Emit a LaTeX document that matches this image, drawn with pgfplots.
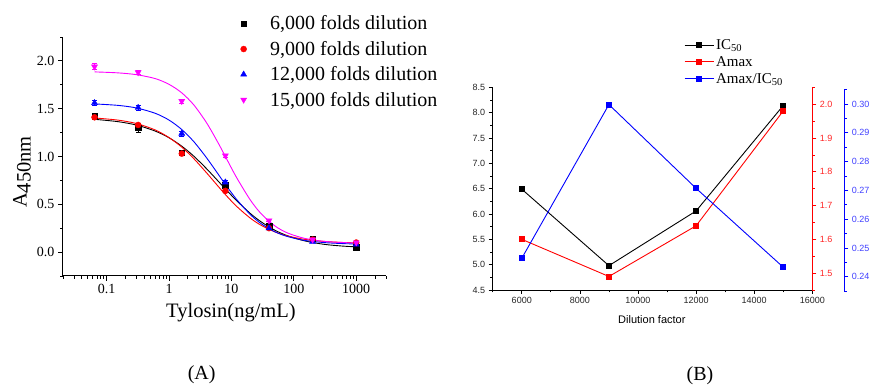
\documentclass[border=0pt]{standalone}
\usepackage{fontspec}
\setmainfont{Liberation Serif}
\newfontfamily\arialfont{Liberation Sans}
\usepackage{pgfplots}
\pgfplotsset{compat=1.18}
\definecolor{mag}{RGB}{255,0,255}
\begin{document}
\begin{tikzpicture}
\path[use as bounding box] (0pt,0pt) rectangle (871pt,390pt);
% ---------------- Panel A ----------------
\begin{axis}[
  at={(63pt,114pt)}, anchor=south west,
  scale only axis, width=323pt, height=239pt,
  xmode=log, xmin=0.02, xmax=3000,
  ymin=-0.25, ymax=2.25,
  axis x line*=bottom, axis y line*=left,
  axis line style={line width=1pt, -},
  tick align=outside,
  major tick length=5pt, minor tick length=3pt,
  every tick/.append style={black, line width=0.8pt},
  xtick={0.1,1,10,100,1000}, xticklabels={0.1,1,10,100,1000},
  minor xtick={0.02,0.03,0.04,0.05,0.06,0.07,0.08,0.09,0.2,0.3,0.4,0.5,0.6,0.7,0.8,0.9,2,3,4,5,6,7,8,9,20,30,40,50,60,70,80,90,200,300,400,500,600,700,800,900,2000,3000},
  ytick={0,0.5,1,1.5,2}, yticklabels={0.0,0.5,1.0,1.5,2.0},
  minor ytick={-0.25,0.25,0.75,1.25,1.75,2.25},
  tick label style={font=\fontsize{14}{16}\selectfont},
  xlabel={Tylosin(ng/mL)}, ylabel={A\raisebox{-4pt}{450nm}},
  label style={font=\fontsize{20.5}{24}\selectfont},
  xlabel style={at={(axis description cs:0.52,-0.155)}, anchor=center},
  ylabel style={at={(axis description cs:-0.127,0.435)}, anchor=center},
  legend style={draw=none, fill=none, at={(axis description cs:0.54,1.106)}, anchor=north west,
    font=\fontsize{20}{24}\selectfont, row sep=5.8pt,
    /tikz/every odd column/.append style={column sep=21.5pt}},
  legend cell align=left,
  clip=false,
]
% fitted curves
\addplot[black, line width=0.9pt, smooth, forget plot] coordinates {(0.064,1.389)(0.15,1.365)(0.3,1.329)(0.6,1.266)(1,1.196)(1.6,1.108)(2.5,1.003)(4,0.872)(6,0.749)(8,0.661)(12,0.541)(20,0.405)(30,0.316)(50,0.228)(80,0.170)(150,0.117)(300,0.082)(600,0.063)(1000,0.055)};
\addplot[red, line width=0.9pt, smooth, forget plot] coordinates {(0.064,1.403)(0.15,1.381)(0.3,1.345)(0.6,1.278)(1,1.198)(1.6,1.098)(2.5,0.977)(4,0.829)(6,0.695)(8,0.602)(12,0.481)(20,0.356)(30,0.280)(50,0.211)(80,0.168)(150,0.133)(300,0.112)(600,0.101)(1000,0.097)};
\addplot[blue, line width=0.9pt, smooth, forget plot] coordinates {(0.064,1.550)(0.15,1.535)(0.3,1.508)(0.6,1.452)(1,1.381)(1.6,1.282)(2.5,1.155)(4,0.986)(6,0.824)(8,0.708)(12,0.554)(20,0.394)(30,0.297)(50,0.212)(80,0.162)(150,0.122)(300,0.100)(600,0.089)(1000,0.085)};
\addplot[mag, line width=0.9pt, smooth, forget plot] coordinates {(0.064,1.885)(0.15,1.875)(0.3,1.856)(0.6,1.815)(1,1.755)(1.6,1.666)(2.5,1.539)(4,1.352)(6,1.153)(8,1.000)(12,0.784)(20,0.547)(30,0.401)(50,0.273)(80,0.199)(150,0.143)(300,0.113)(600,0.100)(1000,0.096)};
% data points
\addplot[black, only marks, mark=square*, mark size=2.8pt,
  error bars/.cd, y dir=both, y explicit, error bar style={line width=0.7pt}, error mark options={rotate=90, mark size=2.5pt, line width=0.7pt}]
  coordinates {(0.064,1.42) +- (0,0.03) (0.32,1.30) +- (0,0.045) (1.6,1.04) +- (0,0.02) (8,0.70) +- (0,0.02) (40,0.27) +- (0,0.01) (200,0.14) +- (0,0.01) (1000,0.05) +- (0,0.01)};
\addlegendentry{6,000 folds dilution}
\addplot[red, only marks, mark=*, mark size=3pt,
  error bars/.cd, y dir=both, y explicit, error bar style={line width=0.7pt}, error mark options={rotate=90, mark size=2.5pt, line width=0.7pt}]
  coordinates {(0.064,1.41) +- (0,0.02) (0.32,1.33) +- (0,0.02) (1.6,1.03) +- (0,0.02) (8,0.64) +- (0,0.02) (40,0.25) +- (0,0.01) (200,0.13) +- (0,0.01) (1000,0.10) +- (0,0.01)};
\addlegendentry{9,000 folds dilution}
\addplot[blue, only marks, mark=triangle*, mark size=3.5pt,
  error bars/.cd, y dir=both, y explicit, error bar style={line width=0.7pt}, error mark options={rotate=90, mark size=2.5pt, line width=0.7pt}]
  coordinates {(0.064,1.56) +- (0,0.03) (0.32,1.51) +- (0,0.03) (1.6,1.24) +- (0,0.025) (8,0.73) +- (0,0.02) (40,0.25) +- (0,0.01) (200,0.11) +- (0,0.01) (1000,0.08) +- (0,0.01)};
\addlegendentry{12,000 folds dilution}
\addplot[mag, only marks, mark=triangle*, mark options={rotate=180}, mark size=3.5pt,
  error bars/.cd, y dir=both, y explicit, error bar style={line width=0.7pt}, error mark options={rotate=90, mark size=2.5pt, line width=0.7pt}]
  coordinates {(0.064,1.94) +- (0,0.03) (0.32,1.88) +- (0,0.025) (1.6,1.58) +- (0,0.02) (8,1.01) +- (0,0.015) (40,0.33) +- (0,0.01) (200,0.13) +- (0,0.01) (1000,0.10) +- (0,0.01)};
\addlegendentry{15,000 folds dilution}
\end{axis}
% ---------------- Panel B: left axis ----------------
\begin{axis}[
  at={(492.7pt,100pt)}, anchor=south west,
  scale only axis, width=319.6pt, height=202.7pt,
  xmin=5000, xmax=16000, ymin=4.5, ymax=8.5,
  axis x line*=bottom, axis y line*=left,
  axis line style={line width=0.8pt, -},
  tick align=outside, major tick length=4pt, minor tick length=2.5pt,
  every tick/.append style={black, line width=0.7pt},
  scaled ticks=false,
  xtick={6000,8000,10000,12000,14000,16000}, xticklabels={6000,8000,10000,12000,14000,16000},
  minor xtick={5000,7000,9000,11000,13000,15000},
  ytick={4.5,5,5.5,6,6.5,7,7.5,8,8.5}, yticklabels={4.5,5.0,5.5,6.0,6.5,7.0,7.5,8.0,8.5},
  minor ytick={4.75,5.25,5.75,6.25,6.75,7.25,7.75,8.25},
  tick label style={font=\arialfont\fontsize{9}{10}\selectfont, text=black!85},
  xlabel={Dilution factor},
  xlabel style={font=\arialfont\fontsize{11}{12}\selectfont, at={(axis description cs:0.498,-0.148)}, anchor=center},
  clip=false,
]
\addplot[black, line width=0.9pt, mark=square*, mark size=2.5pt] coordinates {(6000,6.49) (9000,4.98) (12000,6.06) (15000,8.14)};
\end{axis}
% ---------------- Panel B: red axis ----------------
\begin{axis}[
  at={(492.7pt,100pt)}, anchor=south west,
  scale only axis, width=319.6pt, height=202.7pt,
  xmin=5000, xmax=16000, ymin=1.45, ymax=2.05,
  hide x axis, axis y line*=right,
  axis line style={red, line width=0.8pt, -},
  tick align=outside, major tick length=4pt, minor tick length=2.5pt,
  every tick/.append style={red, line width=0.7pt},
  ytick={1.5,1.6,1.7,1.8,1.9,2.0}, yticklabels={1.5,1.6,1.7,1.8,1.9,2.0},
  minor ytick={1.45,1.55,1.65,1.75,1.85,1.95,2.05},
  tick label style={font=\arialfont\fontsize{9}{10}\selectfont, text=red!85},
  clip=false,
]
\addplot[red, line width=0.9pt, mark=square*, mark size=2.5pt] coordinates {(6000,1.60) (9000,1.49) (12000,1.64) (15000,1.98)};
\end{axis}
% ---------------- Panel B: blue axis ----------------
\begin{axis}[
  at={(492.7pt,98.3pt)}, anchor=south west,
  scale only axis, width=351.6pt, height=202.4pt,
  xmin=5000, xmax=17101, ymin=0.2348, ymax=0.3051,
  hide x axis, axis y line*=right,
  axis line style={blue, line width=0.8pt, -},
  tick align=outside, major tick length=4pt, minor tick length=2.5pt,
  every tick/.append style={blue, line width=0.7pt},
  ytick={0.24,0.25,0.26,0.27,0.28,0.29,0.30}, yticklabels={0.24,0.25,0.26,0.27,0.28,0.29,0.30},
  minor ytick={0.235,0.245,0.255,0.265,0.275,0.285,0.295,0.305},
  tick label style={font=\arialfont\fontsize{9}{10}\selectfont, text=blue!75},
  legend style={draw=none, fill=none, at={(axis description cs:0.5355,1.268)}, anchor=north west,
    font=\fontsize{15}{17}\selectfont, row sep=1.5pt},
  legend cell align=left,
  legend image code/.code={\draw[mark repeat=2, mark phase=2] plot coordinates {(0pt,0pt) (14.5pt,0pt) (29pt,0pt)};},
  clip=false,
]
\addlegendimage{black, line width=0.9pt, mark=square*, mark size=2.5pt}
\addlegendentry{IC\textsubscript{50}}
\addlegendimage{red, line width=0.9pt, mark=square*, mark size=2.5pt}
\addlegendentry{Amax}
\addplot[blue, line width=0.9pt, mark=square*, mark size=2.5pt] coordinates {(6000,0.2464) (9000,0.2998) (12000,0.2707) (15000,0.2433)};
\addlegendentry{Amax/IC\textsubscript{50}}
\end{axis}
\node[font=\fontsize{20}{24}\selectfont] at (201.7pt,15pt) {(A)};
\node[font=\fontsize{20}{24}\selectfont] at (700pt,14pt) {(B)};
\end{tikzpicture}
\end{document}
